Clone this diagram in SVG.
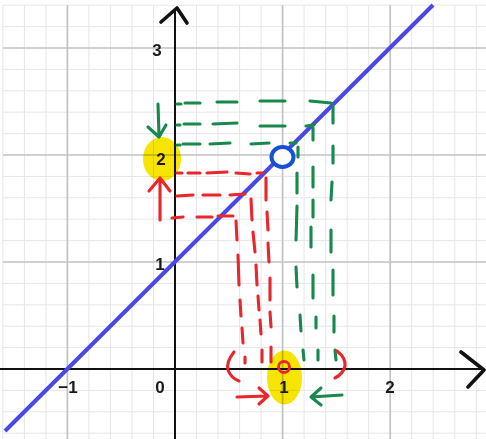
<svg xmlns="http://www.w3.org/2000/svg" width="486" height="439" viewBox="0 0 486 439">
<style>
.minor{stroke:#e6e6e6;stroke-width:1}
.major{stroke:#c2c2c2;stroke-width:1.7}
.axis{stroke:#111;stroke-width:2;fill:none}
.chev{stroke:#111;stroke-width:3.6;fill:none;stroke-linecap:round;stroke-linejoin:round}
.hl{fill:#f7e400;mix-blend-mode:multiply}
.g{stroke:#17894d;stroke-width:3.1;fill:none;stroke-linecap:round;stroke-linejoin:round}
.r{stroke:#e8262b;stroke-width:3.1;fill:none;stroke-linecap:round;stroke-linejoin:round}
.lbl{font-family:"Liberation Sans",Arial,sans-serif;font-size:17px;font-weight:bold;fill:#1a1a1a;text-anchor:middle}
</style>
<rect width="486" height="439" fill="#fff"/>
<g id="grid">
<path class="minor" d="M2.8 5V439M24.4 5V439M45.9 5V439M88.9 5V439M110.4 5V439M132 5V439M153.5 5V439M196.5 5V439M218 5V439M239.6 5V439M261.1 5V439M304.1 5V439M325.6 5V439M347.2 5V439M368.7 5V439M411.7 5V439M433.2 5V439M454.8 5V439M476.3 5V439"/>
<path class="minor" d="M3 5.2H486M3 26.6H486M3 69.4H486M3 90.8H486M3 112.2H486M3 133.6H486M3 176.4H486M3 197.8H486M3 219.2H486M3 240.6H486M3 283.4H486M3 304.8H486M3 326.2H486M3 347.6H486M3 390.4H486M3 411.8H486M3 433.2H486"/>
<path class="major" d="M67.4 5V439M282.6 5V439M390.2 5V439M3 48H486M3 155H486M3 262H486"/>
</g>
<g id="axes">
<path class="axis" d="M175 10V439M0 369H483"/>
<path class="chev" d="M161 22L177 8L187 23"/>
<path class="chev" d="M461 352L484 370L468 387"/>
</g>
<g id="highlights">
<ellipse class="hl" cx="162" cy="159" rx="19" ry="22"/>
<ellipse class="hl" cx="284.5" cy="377.5" rx="17.5" ry="27"/>
</g>
<g id="line">
<path d="M5 431L433 5" stroke="#4848e6" stroke-width="4" fill="none"/>
</g>
<g id="connectors">
<path class="g" d="M177 104H181M185 103H200M217 102L237 102M260 101H285M310 101L331 103"/>
<path class="g" d="M177 125H180M184 124H200M213 124L237 123M260 126H285M306 126L314 125"/>
<path class="g" d="M177 145H180M183 144H200M210 144L230 143M251 144L269 143M290 143H296"/>
<path class="g" d="M333 106V123M333 146V163M332 182L331 200M331 230V252M333 270V295M334 316V332M335 350L336 360"/>
<path class="g" d="M313 128V140M313 167V187M313 200V217M311 227V247M313 275V298M316 317V328M318 350V360"/>
<path class="g" d="M298 147V157M297 173V193M297 206L296 240M296 267L297 287M300 315L301 331M303 350L304 360"/>
<path class="r" d="M177 173H182M188 173H200M207 173L227 172M236 173L250 174M257 173H263"/>
<path class="r" d="M177 196L193 195M203 195H220M230 195L245 194"/>
<path class="r" d="M172 218L183 217M197 217H212M218 216L233 216"/>
<path class="r" d="M236 221L237 240M238 255L239 285M240 300L241 316M242 328L243 343M245 357V363"/>
<path class="r" d="M251 199L252 220M253 232L255 252M256 265L257 285M258 296L259 310M260 320L261 334M262 350V362"/>
<path class="r" d="M266 178V200M267 212L268 230M268 243L269 262M270 278V300M270 312L271 327M271 347V362"/>
<path class="r" d="M234 352Q226 362 228 370Q231 378 239 381"/>
<path class="r" d="M337 351Q346 358 345 366Q343 374 335 378"/>
<path class="r" d="M237 397L268 396M259 388L268 396L259 404"/>
<path class="g" d="M342 395L311 397M321 388L311 397L321 405"/>
<path class="r" d="M160 220V179M149 191L160 178L170 191"/>
<path class="g" d="M158 104L159 136M148 127L159 137L166 125"/>
</g>
<g id="point-open">
<ellipse cx="282.5" cy="157" rx="11" ry="10" fill="#fff" stroke="#1450d8" stroke-width="4"/>
</g>
<g id="point-red">
<circle cx="284" cy="367" r="5.5" fill="none" stroke="#e8262b" stroke-width="2.8"/>
</g>
<g id="labels">
<text class="lbl" x="157" y="56">3</text>
<text class="lbl" x="161" y="165">2</text>
<text class="lbl" x="160" y="270">1</text>
<text class="lbl" x="160" y="393">0</text>
<text class="lbl" x="68" y="393">−1</text>
<text class="lbl" x="284" y="393">1</text>
<text class="lbl" x="390" y="393">2</text>
</g>
</svg>
